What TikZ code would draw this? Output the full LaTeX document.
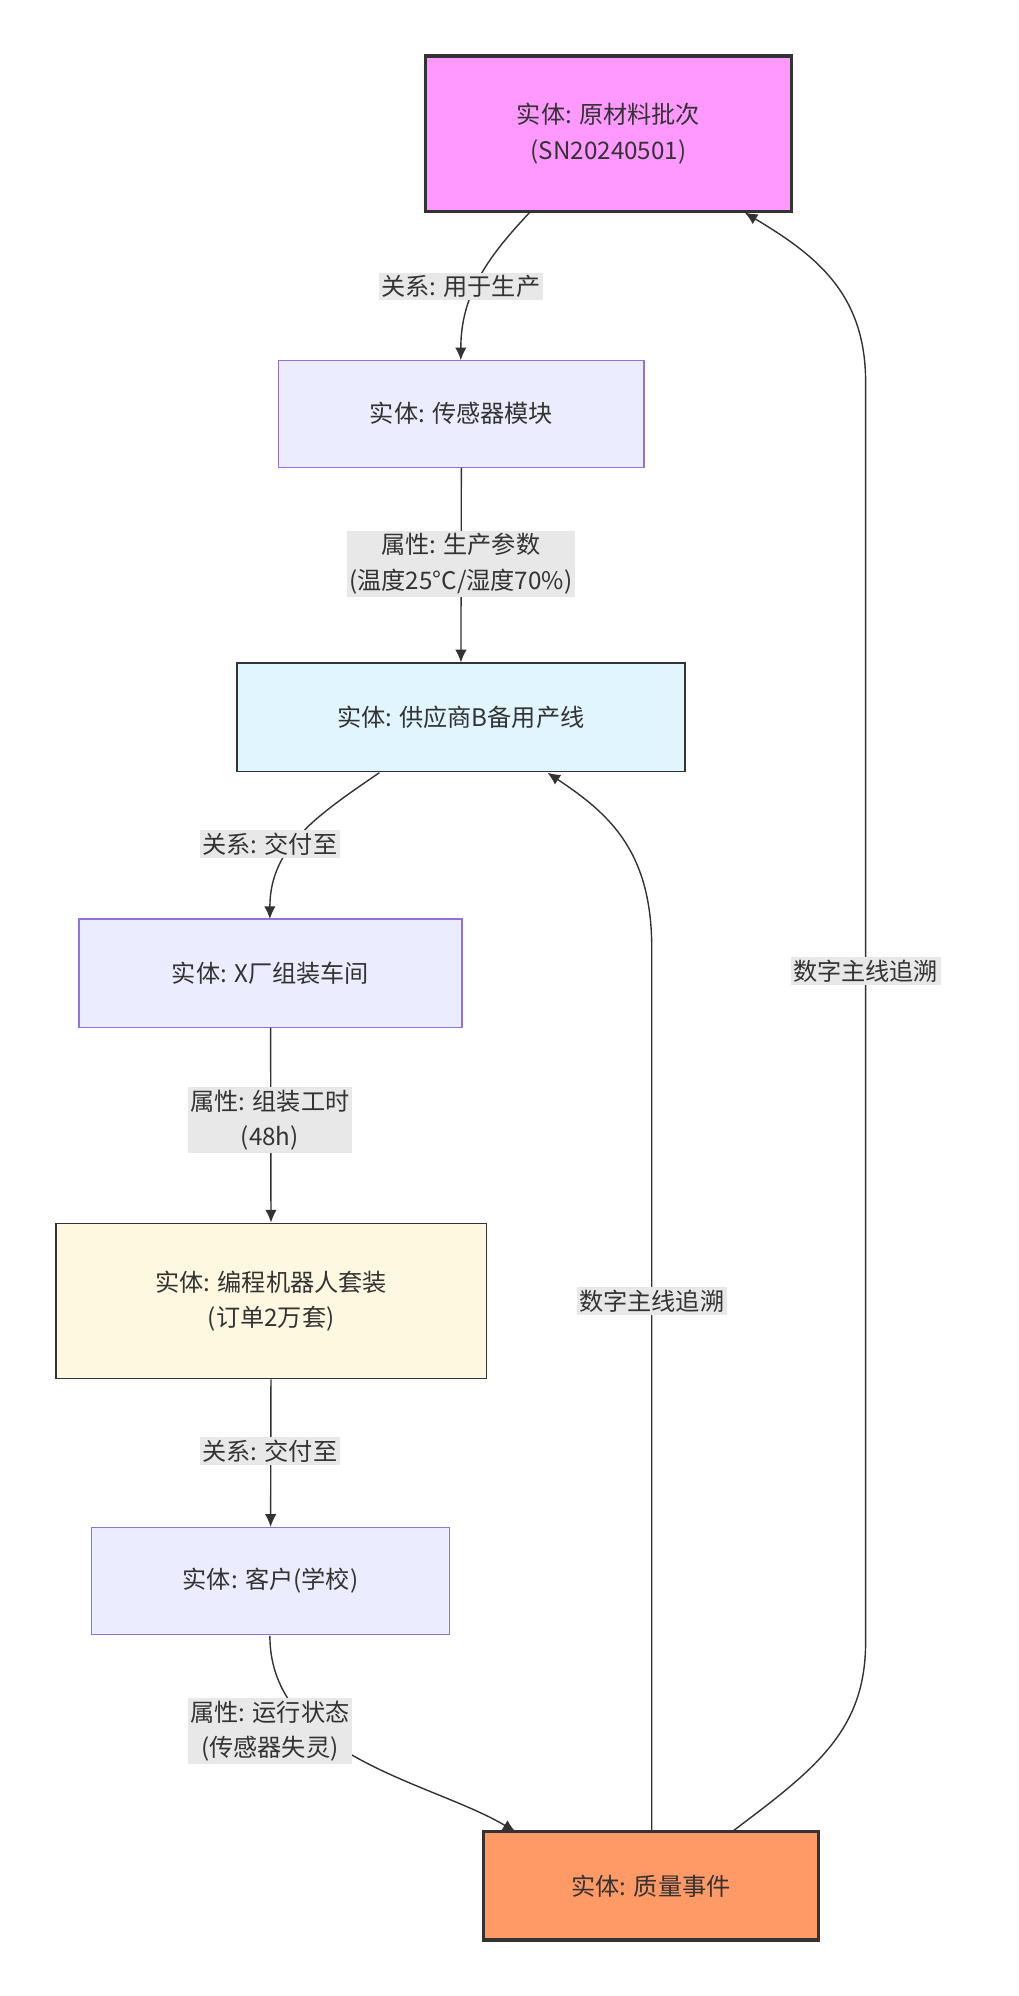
\documentclass[tikz,border=0pt]{standalone}
\usepackage{fontspec}
\setmainfont{Noto Sans CJK SC}
\usetikzlibrary{arrows.meta}
\definecolor{lav}{HTML}{ECECFF}
\definecolor{lavs}{HTML}{9370DB}
\definecolor{dk}{HTML}{333333}
\definecolor{lbl}{HTML}{E8E8E8}
\begin{document}
\begin{tikzpicture}[x=1pt,y=-1pt,
  every node/.style={font=\fontsize{19}{28}\selectfont, text=dk, align=center},
  box/.style={draw=lavs, fill=lav, line width=1pt, inner sep=0pt},
  dbox/.style={draw=dk, line width=1.2pt, inner sep=0pt},
  tbox/.style={draw=dk, line width=2.5pt, inner sep=0pt},
  lab/.style={fill=lbl, inner sep=2pt},
  edge/.style={draw=dk, line width=1.1pt, -{Latex[length=10pt,width=9pt]}}]
\useasboundingbox (0,0) rectangle (800,1568);
\node[tbox, fill={rgb,255:red,255;green,153;blue,255}, minimum width=288, minimum height=122] (n1) at (478,105) {实体: 原材料批次\\(SN20240501)};
\node[box, minimum width=287, minimum height=84] (n2) at (362.5,325) {实体: 传感器模块};
\node[dbox, fill={rgb,255:red,225;green,245;blue,254}, minimum width=352, minimum height=85] (n3) at (362,563.5) {实体: 供应商B备用产线};
\node[box, minimum width=301, minimum height=85] (n4) at (212.5,764.5) {实体: X厂组装车间};
\node[dbox, fill={rgb,255:red,255;green,248;blue,225}, minimum width=338, minimum height=122] (n5) at (213,1022) {实体: 编程机器人套装\\(订单2万套)};
\node[box, minimum width=281, minimum height=84] (n6) at (212.5,1242) {实体: 客户(学校)};
\node[tbox, fill={rgb,255:red,255;green,153;blue,102}, minimum width=263, minimum height=85] (n7) at (511.5,1481.5) {实体: 质量事件};

\coordinate (a1) at (416,167); \coordinate (b1) at (362,283);
\draw[edge] (a1) .. controls (385,200) and (362,230) .. (b1);
\node[lab] (l1) at (362,225) {关系: 用于生产};
\draw[edge] (n2) -- (n3);
\node[lab] (l2) at (362,443) {属性: 生产参数\\(温度25°C/湿度70\%)};
\coordinate (a3) at (298,607); \coordinate (b3) at (212,722);
\draw[edge] (a3) .. controls (250,640) and (212,665) .. (b3);
\node[lab] (l3) at (212,663) {关系: 交付至};
\draw[edge] (n4) -- (n5);
\node[lab] (l4) at (212,880) {属性: 组装工时\\(48h)};
\draw[edge] (n5) -- (n6);
\node[lab] (l5) at (212,1140) {关系: 交付至};
\coordinate (a6) at (212,1285); \coordinate (b6) at (405,1439);
\draw[edge] (a6) .. controls (212,1380) and (340,1400) .. (b6);
\node[lab] (l6) at (212,1360) {属性: 运行状态\\(传感器失灵)};
\coordinate (a7) at (512,1439); \coordinate (m7) at (512,745); \coordinate (b7) at (430,607);
\draw[edge] (a7) -- (m7) .. controls (512,670) and (480,640) .. (b7);
\node[lab] (l7) at (512,1022) {数字主线追溯};
\coordinate (a8) at (575,1439); \coordinate (p8) at (680,1290); \coordinate (m8) at (680,300); \coordinate (b8) at (585,167);
\draw[edge] (a8) .. controls (640,1390) and (680,1360) .. (p8) -- (m8) .. controls (680,230) and (640,200) .. (b8);
\node[lab] (l8) at (680,763) {数字主线追溯};
\end{tikzpicture}
\end{document}
